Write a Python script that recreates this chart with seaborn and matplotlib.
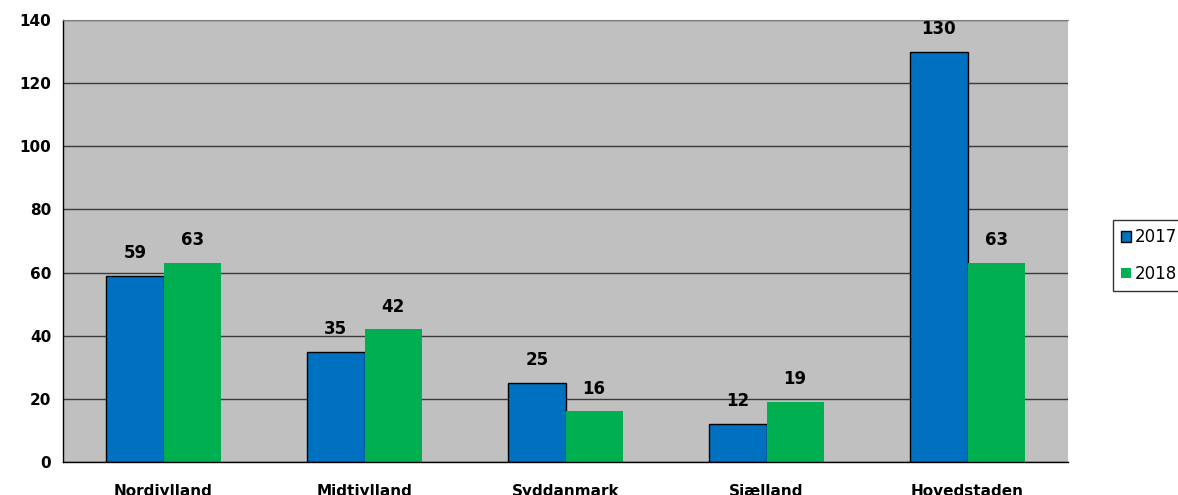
import numpy as np
import pandas as pd
import seaborn as sns
import matplotlib.pyplot as plt
from matplotlib.patches import Patch

regions = ['Nordjylland', 'Midtjylland', 'Syddanmark', 'Sjælland', 'Hovedstaden']
v2017 = [59, 35, 25, 12, 130]
v2018 = [63, 42, 16, 19, 63]
years = ['2017', '2018']
colors = ['#0070C0', '#00B050']

df = pd.DataFrame({'Region': regions * 2,
                   'Year': [years[0]] * len(regions) + [years[1]] * len(regions),
                   'Value': v2017 + v2018})

sns.set_style('white')
plt.rcParams['font.family'] = ['DejaVu Sans']
plt.rcParams['text.color'] = 'black'
plt.rcParams['xtick.color'] = 'black'
plt.rcParams['ytick.color'] = 'black'

fig = plt.figure(figsize=(11.78, 4.95), dpi=100)
ax = fig.add_axes([63 / 1178, 33 / 495, 1005 / 1178, 442 / 495])
ax.set_facecolor('#C0C0C0')

sns.barplot(data=df, x='Region', y='Value', hue='Year', palette=colors,
            width=0.57, gap=0, ax=ax, legend=False, saturation=1)

n = len(regions)
for i, bar in enumerate(ax.patches[:2 * n]):
    if i < n:
        bar.set_edgecolor('black')
        bar.set_linewidth(1.0)
    else:
        bar.set_linewidth(0)

for c in ax.containers:
    ax.bar_label(c, fmt='%d', padding=10, fontsize=12, fontweight='bold', color='black')

ax.set_ylim(0, 140)
ax.set_yticks(range(0, 141, 20))
ax.set_xlim(-0.5, n - 0.5)
ax.yaxis.grid(True, color='#3a3a3a', linewidth=1)
ax.set_axisbelow(True)
ax.set_xlabel('')
ax.set_ylabel('')

ax.set_xticks(np.arange(-0.5, n, 1), minor=False)
ax.set_xticklabels([])
ax.set_xticks(np.arange(n), minor=True)
ax.set_xticklabels(regions, minor=True, fontsize=11, fontweight='bold')
ax.tick_params(axis='x', which='major', length=5, direction='out', color='black')
ax.tick_params(axis='x', which='minor', length=0, pad=16)
ax.tick_params(axis='y', length=5, direction='out', color='black', labelsize=11)
for lab in ax.get_yticklabels():
    lab.set_fontweight('bold')

for s in ['left', 'bottom']:
    ax.spines[s].set_color('black')
    ax.spines[s].set_linewidth(1)
ax.spines['top'].set_color('#808080')
ax.spines['right'].set_visible(False)

handles = [Patch(facecolor=colors[0], edgecolor='black', label=years[0]),
           Patch(facecolor=colors[1], edgecolor='none', label=years[1])]
leg = fig.legend(handles=handles, loc='upper left',
                 bbox_to_anchor=(1113 / 1178, 1 - 220 / 495),
                 frameon=True, fancybox=False, fontsize=12,
                 handlelength=0.6, handleheight=0.6, handletextpad=0.2,
                 borderpad=0.5, labelspacing=1.1, borderaxespad=0)
leg.get_frame().set_edgecolor('black')
leg.get_frame().set_linewidth(1)

fig.savefig('out.png', dpi=100)
